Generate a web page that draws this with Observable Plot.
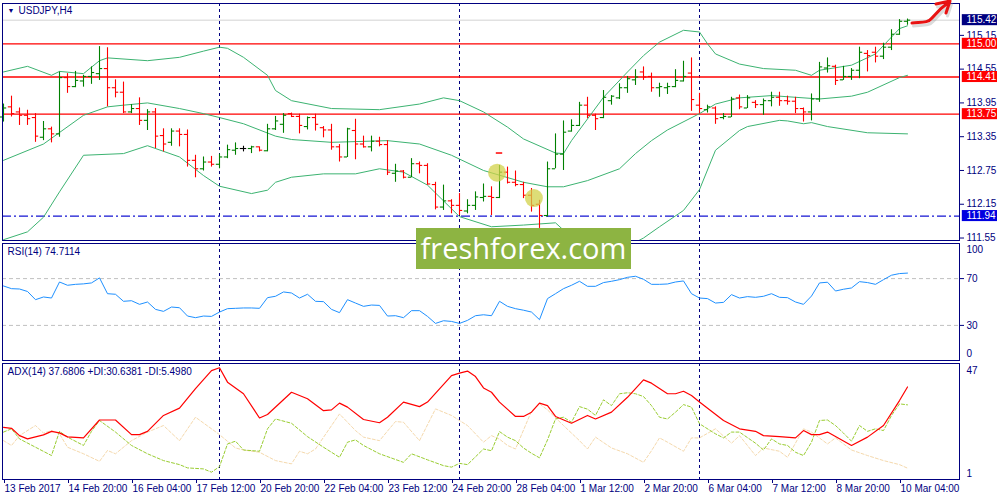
<!DOCTYPE html>
<html><head><meta charset="utf-8">
<script src="https://cdn.jsdelivr.net/npm/d3@7"></script>
<script src="https://cdn.jsdelivr.net/npm/@observablehq/plot@0.6"></script>
<style>
body{margin:0;background:#fff;}
#chart{position:relative;width:1000px;height:500px;overflow:hidden;background:#fff;}
#chart svg{position:absolute;left:0;}
#wm{position:absolute;left:416px;top:228px;width:215px;height:41px;background:#8db442;color:#fff;font-family:"Open Sans",sans-serif;font-size:29px;line-height:40px;text-align:center;letter-spacing:0px;}
</style></head><body><div id="chart"></div>
<script>
// ---- data ----
const times = ["13 Feb 2017","14 Feb 20:00","16 Feb 04:00","17 Feb 12:00","20 Feb 20:00","22 Feb 04:00","23 Feb 12:00","24 Feb 20:00","28 Feb 04:00","1 Mar 12:00","2 Mar 20:00","6 Mar 04:00","7 Mar 12:00","8 Mar 20:00","10 Mar 04:00"];
const timeTickIdx = [0,8,16,24,32,40,48,56,64,72,80,88,96,104,112];
const separatorIdx = [27,57,87];

const open = [113.70,113.88,113.79,113.73,113.69,113.34,113.49,113.40,114.40,114.24,114.34,114.42,114.47,114.56,114.22,114.14,113.79,113.85,113.64,113.79,113.37,113.25,113.45,113.39,112.93,112.78,112.90,112.86,112.99,113.11,113.14,113.14,113.17,113.10,113.49,113.57,113.76,113.71,113.53,113.69,113.51,113.47,113.17,112.99,113.46,113.22,113.17,113.27,113.21,112.70,112.74,112.63,112.87,112.84,112.50,112.10,112.21,112.13,112.03,112.13,112.27,112.29,112.27,112.72,112.54,112.50,112.31,112.15,111.95,112.78,113.04,113.45,113.55,113.91,113.73,113.69,113.99,114.04,114.22,114.36,114.50,114.42,114.22,114.22,114.24,114.34,114.48,113.91,113.83,113.86,113.69,113.70,114.04,113.86,113.96,113.92,113.99,114.05,113.99,113.98,113.85,113.79,114.02,114.57,114.60,114.36,114.42,114.53,114.83,114.85,114.78,114.94,115.17,115.40];
const high = [113.93,114.07,113.86,113.82,113.76,113.62,113.52,114.50,114.47,114.51,114.44,114.59,114.95,114.93,114.36,114.32,113.92,114.04,113.83,113.85,113.49,113.49,113.49,113.47,113.02,112.99,113.00,113.04,113.20,113.24,113.18,113.18,113.17,113.57,113.71,113.76,113.77,113.75,113.70,113.75,113.53,113.57,113.21,113.50,113.66,113.36,113.36,113.34,113.28,112.86,112.75,112.96,112.90,112.87,112.54,112.49,112.23,112.34,112.23,112.37,112.51,112.46,112.84,112.81,112.74,112.54,112.43,112.22,112.90,113.40,113.63,113.65,113.96,114.05,113.75,114.17,114.08,114.29,114.42,114.54,114.59,114.48,114.30,114.30,114.54,114.69,114.75,114.12,113.91,113.88,113.76,114.05,114.09,114.08,113.99,114.02,114.14,114.14,114.07,114.05,113.86,114.11,114.67,114.75,114.62,114.60,114.56,114.94,114.88,114.94,115.01,115.25,115.43,115.44];
const low = [113.61,113.70,113.55,113.55,113.25,113.28,113.24,113.34,114.12,114.22,114.23,114.28,114.35,113.88,114.04,113.76,113.76,113.55,113.46,113.14,113.08,113.18,113.17,112.81,112.62,112.74,112.81,112.78,112.96,113.02,113.08,113.05,113.08,113.08,113.46,113.41,113.69,113.40,113.47,113.45,113.33,113.11,112.90,112.98,112.94,113.15,113.08,113.17,112.66,112.54,112.60,112.62,112.69,112.49,112.05,112.04,111.98,111.95,111.98,112.04,112.19,111.95,112.25,112.51,112.46,112.25,112.01,111.72,111.92,112.78,112.75,113.43,113.53,113.67,113.46,113.67,113.91,114.01,114.12,114.26,114.35,114.14,114.05,114.10,114.22,114.32,113.80,113.76,113.77,113.57,113.65,113.69,113.83,113.85,113.85,113.73,113.88,113.89,113.91,113.76,113.61,113.63,113.96,114.48,114.26,114.35,114.35,114.38,114.50,114.66,114.72,114.88,115.15,115.33];
const close = [113.86,113.76,113.73,113.67,113.36,113.49,113.40,114.40,114.24,114.35,114.42,114.49,114.56,114.22,114.14,113.79,113.85,113.64,113.79,113.36,113.22,113.45,113.39,112.93,112.78,112.90,112.86,112.99,113.12,113.14,113.14,113.17,113.11,113.49,113.63,113.73,113.71,113.55,113.69,113.57,113.47,113.17,112.99,113.49,113.22,113.17,113.27,113.21,112.72,112.74,112.63,112.87,112.84,112.51,112.10,112.21,112.13,112.04,112.13,112.28,112.29,112.27,112.72,112.54,112.50,112.31,112.13,111.95,112.78,113.04,113.43,113.55,113.91,113.73,113.67,114.05,114.07,114.22,114.38,114.41,114.41,114.22,114.24,114.24,114.35,114.42,114.01,113.85,113.88,113.67,113.71,114.02,113.88,114.04,113.92,113.99,114.05,113.99,113.98,113.85,113.79,114.02,114.59,114.61,114.35,114.42,114.53,114.85,114.79,114.78,114.94,115.17,115.40,115.42];

const bbUpperIdx = [0,3,6,7,10,12,13,18,22,25,27,28,30,33,34,36,41,47,52,55,57,60,63,65,69,70,71,75,78,80,82,85,87,88,89,92,95,99,101,102,106,109,112,113];
const bbUpperVal = [114.50,114.60,114.44,114.51,114.47,114.70,114.75,114.70,114.76,114.87,114.94,114.92,114.76,114.44,114.17,113.99,113.85,113.83,113.93,114.04,113.99,113.79,113.52,113.31,113.06,113.05,113.28,114.05,114.50,114.79,115.03,115.24,115.21,115.00,114.82,114.64,114.56,114.53,114.44,114.53,114.62,114.82,115.27,115.32];
const bbMidIdx = [0,5,10,13,15,18,22,25,27,30,34,36,41,48,52,56,60,65,68,70,73,77,79,81,83,87,89,92,96,99,102,106,108,112,113];
const bbMidVal = [112.93,113.22,113.73,113.88,113.91,113.95,113.85,113.76,113.69,113.58,113.36,113.30,113.25,113.28,113.22,113.02,112.75,112.54,112.46,112.46,112.57,112.78,113.05,113.28,113.47,113.76,113.93,114.04,114.08,114.05,114.02,114.07,114.14,114.40,114.44];
const bbLowIdx = [0,3,5,7,10,15,18,22,25,27,31,33,34,36,40,44,47,50,53,57,61,65,69,70,72,74,76,78,80,82,85,87,89,92,93,97,98,100,101,103,108,113];
const bbLowVal = [111.52,111.66,111.92,112.37,113.02,113.05,113.19,112.99,112.66,112.47,112.34,112.40,112.54,112.63,112.69,112.69,112.78,112.72,112.49,111.93,111.75,111.78,111.82,111.69,111.45,111.32,111.32,111.40,111.55,111.75,112.04,112.41,113.11,113.46,113.53,113.64,113.63,113.58,113.60,113.53,113.42,113.40];

const redLevels = [115.00,114.41,113.75];
const supportLevel = 111.94;
const bidLevel = 115.42;
const priceTicks = [115.15,114.55,113.95,113.35,112.75,112.15,111.55];
const badgeVals = [115.42,115.00,114.41,113.75,111.94];
const badgeColors = ["#000080","#ff0000","#ff0000","#ff0000","#0000e0"];
const markerIdx = [61.7,66.3];
const markerVal = [112.71,112.26];
const dashMarkerIdx = [62];
const dashMarkerVal = [113.06];

const rsiVal = [63.7,61.4,61.1,59.0,52.0,54.3,53.4,67.1,64.3,65.1,65.5,66.3,70.6,57.1,56.6,50.6,51.1,48.0,50.0,43.7,42.0,45.7,45.1,38.0,36.6,38.0,37.7,41.4,44.3,44.6,44.9,44.9,44.6,53.7,54.9,58.6,57.7,53.4,56.6,50.6,50.3,43.7,40.9,52.0,49.1,46.3,47.4,47.1,38.0,38.3,36.6,42.6,42.6,37.7,31.7,34.0,33.4,31.7,34.3,38.3,39.1,38.3,50.6,46.3,44.3,43.0,41.4,34.9,52.9,57.1,61.4,64.3,67.7,63.4,63.4,66.6,67.7,69.1,71.1,72.0,69.4,65.1,65.1,65.4,67.1,68.0,57.1,53.4,52.9,49.1,49.7,56.3,53.4,54.6,54.0,54.9,57.1,54.0,53.7,50.0,48.0,55.1,66.3,66.9,59.4,60.9,62.0,67.4,66.6,65.1,69.1,72.9,74.3,74.7];
const rsiLevels = [70,30];

const adxIdx = [0,1,2,3,5,6,7,8,10,12,14,16,17,18,20,22,24,26,27,28,30,32,33,36,38,40,41,42,43,45,47,48,50,52,53,56,57,58,59,60,61,62,64,65,66,67,68,69,71,73,74,76,78,80,81,83,84,85,86,87,90,92,94,95,97,99,100,101,102,103,106,108,110,112,113];
const adxVal = [21.7,21.3,18.4,17.1,18.7,20.1,19.5,17.9,17.5,24.6,24.6,18.8,18.8,20.1,26.4,29.3,37.0,44.2,45.3,39.6,35.0,25.4,26.8,35.6,33.0,28.3,28.6,31.3,29.7,24.8,23.5,25.7,31.7,29.9,31.7,42.2,43.2,44.0,41.8,37.3,35.6,31.7,26.0,26.0,27.7,31.3,30.3,26.0,23.3,26.4,25.0,27.7,33.6,40.5,39.2,35.0,35.0,36.0,34.3,31.7,24.4,21.1,20.1,18.4,18.0,17.5,20.4,18.8,18.8,19.8,14.5,17.8,22.4,32.3,37.7];
const pdiIdx = [0,1,2,4,6,7,8,10,11,12,14,16,18,20,22,23,25,26,27,28,29,30,32,33,34,36,38,40,42,43,44,45,47,50,51,53,55,56,57,58,60,61,62,63,64,65,66,67,68,69,70,71,72,73,74,75,76,77,78,79,80,81,82,83,84,85,86,87,89,90,91,92,94,95,96,97,98,99,100,101,102,103,104,105,106,107,108,109,110,111,112,113];
const pdiVal = [19.8,21.1,17.1,13.8,10.5,20.1,17.8,14.5,20.1,24.4,19.8,14.5,11.2,8.5,6.9,5.6,5.2,3.9,6.1,15.1,16.2,12.7,12.2,21.1,25.0,23.3,18.0,13.8,9.8,15.8,16.7,14.5,11.2,7.8,11.2,8.8,6.5,5.9,7.4,6.9,13.1,12.4,20.0,17.8,16.4,13.5,11.4,9.6,16.7,25.0,25.7,23.7,29.9,28.9,26.4,32.6,30.3,35.0,35.4,35.0,33.9,30.3,25.7,25.0,27.7,30.7,29.7,23.1,19.1,17.5,19.8,19.8,15.4,12.7,17.1,15.1,14.5,11.8,10.5,15.8,24.4,24.6,22.4,19.4,16.2,22.4,20.1,21.1,20.4,26.4,31.0,30.6];
const mdiIdx = [0,1,2,4,5,6,7,8,10,12,13,14,16,18,20,22,24,27,29,30,32,34,36,37,38,39,42,44,45,47,49,50,52,54,56,58,60,61,62,63,64,66,67,68,70,72,73,74,76,78,80,81,82,83,85,86,87,89,91,92,94,95,97,98,100,101,103,104,106,108,110,112,113];
const mdiVal = [16.4,14.5,18.4,22.4,19.4,20.4,19.1,13.8,11.2,8.2,12.5,11.2,16.4,19.8,22.4,16.4,25.7,18.8,13.5,12.7,11.8,8.5,7.2,12.2,11.2,13.1,27.0,20.4,17.8,16.4,24.0,23.7,16.4,29.0,26.4,22.4,15.8,18.4,17.0,14.5,13.1,28.1,31.0,28.6,22.4,16.4,13.1,17.8,13.5,11.2,7.8,12.4,17.5,15.8,12.2,17.5,17.5,21.1,15.4,18.4,10.5,13.5,12.2,9.8,21.1,19.8,15.1,17.5,12.7,10.5,8.5,6.9,5.5];

// ---- build ----
const navy = "#000080";
const font = "'Liberation Sans Narrow','Liberation Sans',Arial,sans-serif";
const xDomain = [-0.125, 119.5];
const pts = (idx, vals) => idx.map((i, k) => ({i, v: vals[k]}));
const bars = open.map((o, i) => ({i, o, h: high[i], l: low[i], c: close[i]}));
const barColor = d => d.c > d.o ? "#008000" : d.c < d.o ? "#ff0000" : "#000000";
const bbColor = "#3cb371";
const common = {
  width: 1000, marginLeft: 2, marginRight: 41,
  style: {fontFamily: font, fontSize: "10px", background: "transparent", color: navy},
  x: {domain: xDomain, axis: null}
};
const sepMark = () => Plot.ruleX(separatorIdx, {stroke: navy, strokeDasharray: "3,3"});

const price = Plot.plot({
  ...common, height: 243, marginTop: 3, marginBottom: 3,
  y: {domain: [111.506, 115.716], axis: null},
  marks: [
    Plot.ruleY([bidLevel], {stroke: "#d2d2d2"}),
    sepMark(),
    Plot.ruleY(redLevels, {stroke: "#ff0000", strokeWidth: 1.3}),
    Plot.ruleY([supportLevel], {stroke: "#1414d2", strokeWidth: 1.2, strokeDasharray: "9,3,2,3"}),
    Plot.line(pts(bbUpperIdx, bbUpperVal), {x: "i", y: "v", stroke: bbColor, strokeWidth: 1, clip: true}),
    Plot.line(pts(bbMidIdx, bbMidVal), {x: "i", y: "v", stroke: bbColor, strokeWidth: 1, clip: true}),
    Plot.line(pts(bbLowIdx, bbLowVal), {x: "i", y: "v", stroke: bbColor, strokeWidth: 1, clip: true}),
    Plot.ruleX(bars, {x: "i", y1: "l", y2: "h", stroke: barColor, strokeWidth: 1.1}),
    Plot.ruleY(bars, {y: "o", x1: d => d.i - 0.4, x2: "i", stroke: barColor, strokeWidth: 1.1}),
    Plot.ruleY(bars, {y: "c", x1: "i", x2: d => d.i + 0.4, stroke: barColor, strokeWidth: 1.1}),
    Plot.dot(pts(markerIdx, markerVal), {x: "i", y: "v", r: 9, fill: "#d2d24a", fillOpacity: 0.75}),
    Plot.ruleY(pts(dashMarkerIdx, dashMarkerVal), {y: "v", x1: d => d.i - 0.4, x2: d => d.i + 0.4, stroke: "#ff0000", strokeWidth: 1.5}),
    Plot.frame({stroke: navy}),
    Plot.axisY({anchor: "right", ticks: priceTicks, tickSize: 4, tickPadding: 3, tickFormat: d3.format(".2f"), color: navy, label: null}),
    Plot.rect(badgeVals, {x1: xDomain[1] + 0.35, x2: xDomain[1] + 4.75, y1: d => d - 0.098, y2: d => d + 0.098, fill: (d, k) => badgeColors[k]}),
    Plot.text(badgeVals, {y: d => d, frameAnchor: "right", dx: 7, textAnchor: "start", text: d => d.toFixed(2), fill: "white"}),
    Plot.text(["▼"], {frameAnchor: "top-left", dx: 5, dy: 5, fontSize: 7, fill: navy}),
    Plot.text(["USDJPY,H4"], {frameAnchor: "top-left", dx: 16, dy: 3, fill: navy})
  ]
});

const rsi = Plot.plot({
  ...common, height: 123, marginTop: 3, marginBottom: 3,
  y: {domain: [0, 100], axis: null},
  marks: [
    Plot.ruleY(rsiLevels, {stroke: "#c0c0c0", strokeDasharray: "4,3"}),
    sepMark(),
    Plot.line(rsiVal, {x: (d, i) => i, y: d => d, stroke: "#1e90ff", strokeWidth: 1}),
    Plot.frame({stroke: navy}),
    Plot.axisY({anchor: "right", ticks: rsiLevels, tickSize: 4, tickPadding: 3, color: navy, label: null}),
    Plot.text([100], {y: d => d, frameAnchor: "right", dx: 7, dy: 6, textAnchor: "start", fill: navy}),
    Plot.text([0], {y: d => d, frameAnchor: "right", dx: 7, dy: -7, textAnchor: "start", fill: navy}),
    Plot.text(["RSI(14) 74.7114"], {frameAnchor: "top-left", dx: 5, dy: 4, fill: navy})
  ]
});

const adx = Plot.plot({
  ...common, height: 140, marginTop: 3, marginBottom: 21,
  y: {domain: [1, 47], axis: null},
  marks: [
    sepMark(),
    Plot.line(pts(mdiIdx, mdiVal), {x: "i", y: "v", stroke: "#f5d9ad", strokeWidth: 1, strokeDasharray: "3,2"}),
    Plot.line(pts(pdiIdx, pdiVal), {x: "i", y: "v", stroke: "#9acd32", strokeWidth: 1, strokeDasharray: "3,2"}),
    Plot.line(pts(adxIdx, adxVal), {x: "i", y: "v", stroke: "#ff0000", strokeWidth: 1.2}),
    Plot.frame({stroke: navy}),
    Plot.text([47], {y: d => d, frameAnchor: "right", dx: 7, dy: 7, textAnchor: "start", fill: navy}),
    Plot.text([1], {y: d => d, frameAnchor: "right", dx: 7, dy: -6, textAnchor: "start", fill: navy}),
    Plot.axisX({anchor: "bottom", ticks: timeTickIdx, tickSize: 4, tickPadding: 1, textAnchor: "start", dx: 1,
      tickFormat: d => times[timeTickIdx.indexOf(d)], color: navy, label: null}),
    Plot.text(["ADX(14) 37.6806 +DI:30.6381 -DI:5.4980"], {frameAnchor: "top-left", dx: 5, dy: 4, fill: navy})
  ]
});

const chart = document.getElementById("chart");
[[price, 0], [rsi, 240], [adx, 360]].forEach(([svg, top]) => {
  svg.style.position = "absolute";
  svg.style.top = top + "px";
  svg.style.left = "0px";
  chart.appendChild(svg);
});

const wm = document.createElement("div");
wm.id = "wm";
wm.textContent = "freshforex.com";
chart.appendChild(wm);

const ns = "http://www.w3.org/2000/svg";
const arrow = document.createElementNS(ns, "svg");
arrow.setAttribute("width", "1000"); arrow.setAttribute("height", "60");
arrow.style.position = "absolute"; arrow.style.top = "0px"; arrow.style.left = "0px";
arrow.innerHTML = '<g fill="none" stroke-linecap="round" stroke-linejoin="round">' +
  '<path d="M912,24 C922,23 928,24 932,19 C937,13 942,8 949,3 M936,5 L950,2 L946,14" stroke="#999" stroke-width="3" opacity="0.35" transform="translate(1.5,2)"/>' +
  '<path d="M912,23 C922,22 928,23 932,18 C937,12 942,7 949,2 M936,4 L950,1 L946,13" stroke="#e81212" stroke-width="3"/></g>';
chart.appendChild(arrow);
</script></body></html>
